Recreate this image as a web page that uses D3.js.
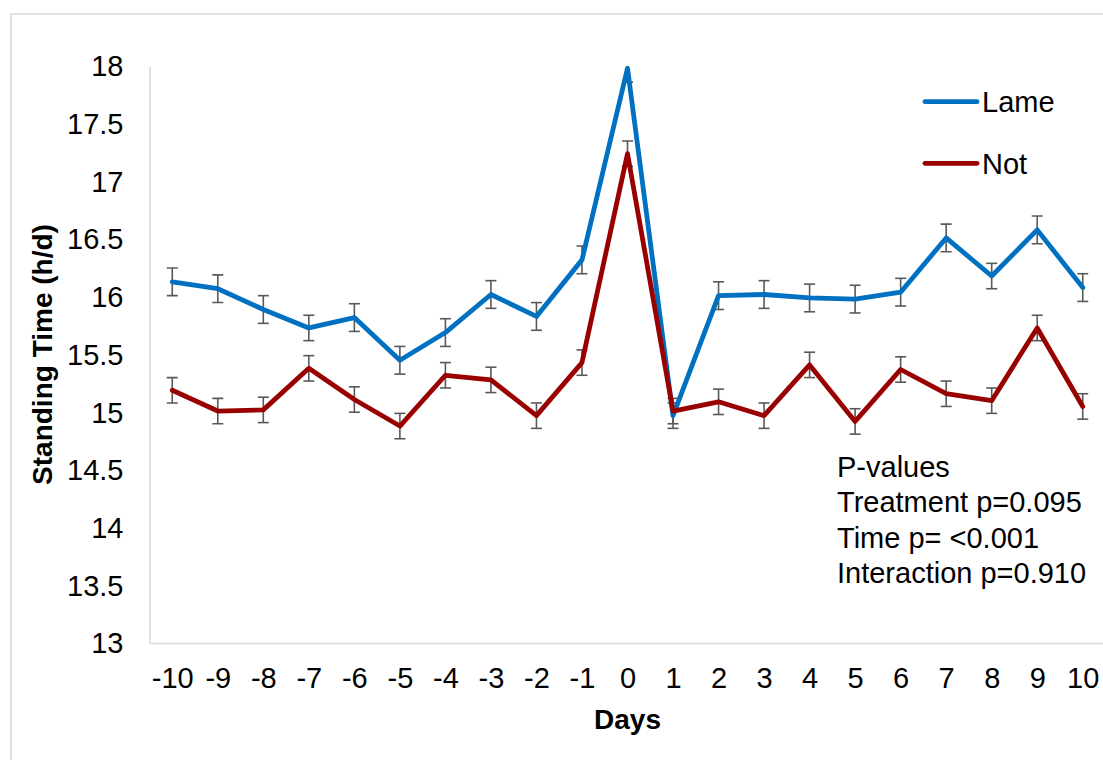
<!DOCTYPE html>
<html>
<head>
<meta charset="utf-8">
<script src="https://cdn.jsdelivr.net/npm/d3@7"></script>
<style>
  html, body { margin: 0; padding: 0; background: #ffffff; }
  svg { display: block; font-family: Arial, "Liberation Sans", sans-serif; }
</style>
</head>
<body>
<svg id="chart" width="1103" height="760"></svg>
<script>
// Daily standing time around the event day (day 0)
const days = [-10, -9, -8, -7, -6, -5, -4, -3, -2, -1, 0, 1, 2, 3, 4, 5, 6, 7, 8, 9, 10];
const lame = [16.13, 16.07, 15.89, 15.73, 15.82, 15.45, 15.69, 16.02, 15.83, 16.32, 17.98,
              14.97, 16.01, 16.02, 15.99, 15.98, 16.04, 16.51, 16.18, 16.58, 16.08];
const lameErr = [0.12, 0.12, 0.12, 0.11, 0.12, 0.12, 0.12, 0.12, 0.12, 0.12, 0.12,
                 0.11, 0.12, 0.12, 0.12, 0.12, 0.12, 0.12, 0.11, 0.12, 0.12];
const notLame = [15.19, 15.01, 15.02, 15.38, 15.11, 14.88, 15.32, 15.28, 14.97, 15.43, 17.24,
                 15.01, 15.09, 14.97, 15.41, 14.92, 15.37, 15.16, 15.10, 15.73, 15.05];
const notErr = [0.11, 0.11, 0.11, 0.11, 0.11, 0.11, 0.11, 0.11, 0.11, 0.11, 0.11,
                0.11, 0.11, 0.11, 0.11, 0.11, 0.11, 0.11, 0.11, 0.11, 0.11];
const yTicks = [13, 13.5, 14, 14.5, 15, 15.5, 16, 16.5, 17, 17.5, 18];
const seriesNames = ["Lame", "Not"];
const seriesColors = ["#0070C0", "#990000"];
const pValueLines = ["P-values", "Treatment p=0.095", "Time p= <0.001", "Interaction p=0.910"];

const svg = d3.select("#chart");
const plot = { left: 149.5, right: 1105.5, top: 66, bottom: 643 };
const fontSize = 29;

const x = d3.scalePoint().domain(days).range([plot.left, plot.right]).padding(0.5);
const y = d3.scaleLinear().domain([13, 18]).range([plot.bottom, plot.top]);

// chart frame
svg.append("rect")
  .attr("x", 11).attr("y", 14).attr("width", 1110).attr("height", 780)
  .attr("fill", "#ffffff").attr("stroke", "#D9D9D9").attr("stroke-width", 1.5);

// clip marks to the plot area
svg.append("defs").append("clipPath").attr("id", "plotClip")
  .append("rect")
  .attr("x", plot.left).attr("y", plot.top)
  .attr("width", plot.right - plot.left).attr("height", plot.bottom - plot.top);

// y axis
const yAxis = svg.append("g")
  .attr("transform", `translate(${plot.left},0)`)
  .call(d3.axisLeft(y).tickValues(yTicks).tickSize(0).tickPadding(26).tickFormat(d3.format("")));
yAxis.select(".domain").attr("stroke", "#D9D9D9").attr("stroke-width", 1.5);
yAxis.selectAll("text").attr("font-size", fontSize).attr("fill", "#000").attr("dy", "0.34em");

// x axis
const xAxis = svg.append("g")
  .attr("transform", `translate(0,${plot.bottom})`)
  .call(d3.axisBottom(x).tickSize(0).tickPadding(24));
xAxis.select(".domain").attr("stroke", "#D9D9D9").attr("stroke-width", 1.5);
xAxis.selectAll("text").attr("font-size", fontSize).attr("fill", "#000").attr("dy", "0.71em");

// axis titles
svg.append("text")
  .attr("x", x(0)).attr("y", 729)
  .attr("text-anchor", "middle")
  .attr("font-size", 28).attr("font-weight", "bold")
  .text("Days");

svg.append("text")
  .attr("transform", `translate(52,${(plot.top + plot.bottom) / 2}) rotate(-90)`)
  .attr("text-anchor", "middle")
  .attr("font-size", 28).attr("font-weight", "bold")
  .text("Standing Time (h/d)");

const series = [
  { values: lame, err: lameErr, color: seriesColors[0] },
  { values: notLame, err: notErr, color: seriesColors[1] }
];

const marks = svg.append("g").attr("clip-path", "url(#plotClip)");

// error bars
const capHalf = 5.5;
series.forEach(s => {
  const g = marks.append("g").attr("stroke", "#595959").attr("stroke-width", 1.6).attr("fill", "none");
  days.forEach((d, i) => {
    const cx = x(d);
    const hi = y(s.values[i] + s.err[i]);
    const lo = y(s.values[i] - s.err[i]);
    g.append("line").attr("x1", cx).attr("x2", cx).attr("y1", hi).attr("y2", lo);
    g.append("line").attr("x1", cx - capHalf).attr("x2", cx + capHalf).attr("y1", hi).attr("y2", hi);
    g.append("line").attr("x1", cx - capHalf).attr("x2", cx + capHalf).attr("y1", lo).attr("y2", lo);
  });
});

// series lines
const line = d3.line().x((d, i) => x(days[i])).y(d => y(d));
series.forEach(s => {
  marks.append("path")
    .datum(s.values)
    .attr("d", line)
    .attr("fill", "none")
    .attr("stroke", s.color)
    .attr("stroke-width", 4.8)
    .attr("stroke-linejoin", "round")
    .attr("stroke-linecap", "round");
});

// legend
const legend = svg.append("g");
seriesNames.forEach((name, i) => {
  const ly = 101.7 + i * 61.6;
  legend.append("line")
    .attr("x1", 925).attr("x2", 977).attr("y1", ly).attr("y2", ly)
    .attr("stroke", seriesColors[i]).attr("stroke-width", 4.8).attr("stroke-linecap", "round");
  legend.append("text")
    .attr("x", 982).attr("y", ly).attr("dy", "0.36em")
    .attr("font-size", fontSize).attr("fill", "#000")
    .text(name);
});

// statistics annotation
const note = svg.append("text")
  .attr("x", 837).attr("y", 477)
  .attr("font-size", fontSize).attr("fill", "#000");
pValueLines.forEach((t, i) => {
  note.append("tspan").attr("x", 837).attr("y", 477 + i * 35.3).text(t);
});
</script>
</body>
</html>
